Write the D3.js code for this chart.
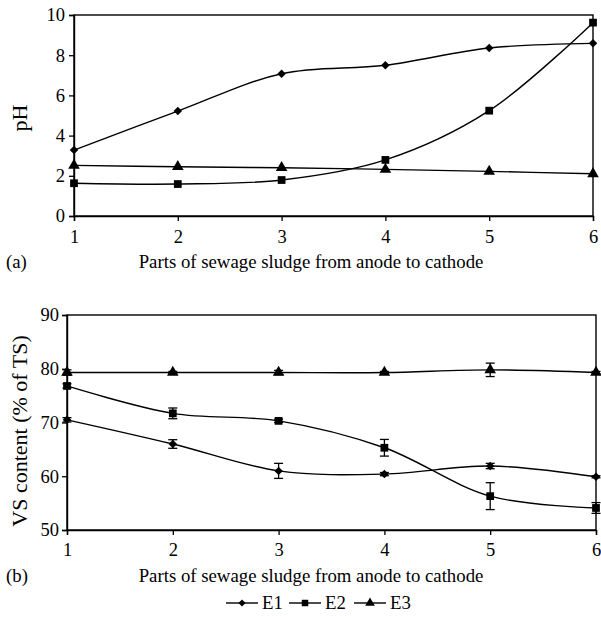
<!DOCTYPE html>
<html><head><meta charset="utf-8">
<script src="https://cdn.jsdelivr.net/npm/d3@7"></script>
<style>
body{margin:0;background:#fff;}
text{font-family:"Liberation Serif","Times New Roman",serif;fill:#000;}
</style></head>
<body><svg id="c" width="601" height="617"></svg>
<script>
const parts = [1,2,3,4,5,6];
const seriesNames = ["E1","E2","E3"];
// (a) pH
const phE1 = [3.28,5.22,7.08,7.5,8.36,8.59];
const phE2 = [1.63,1.59,1.79,2.79,5.24,9.62];
const phE3 = [2.52,2.45,2.4,2.32,2.22,2.1];
const phTicks = [0,2,4,6,8,10];
// (b) VS content
const vsE1 = [70.5,66.0,61.0,60.4,61.9,59.9];
const vsE2 = [76.8,71.7,70.3,65.3,56.3,54.1];
const vsE3 = [79.3,79.3,79.3,79.3,79.8,79.3];
const vsErrE1 = [0.4,0.8,1.4,0.3,0.5,0.2];
const vsErrE2 = [0.4,1.0,0.3,1.55,2.5,1.0];
const vsErrE3 = [0.5,0.2,0.4,0.2,1.25,0.2];
const vsTicks = [50,60,70,80,90];

const svg = d3.select("#c");
const symbols = [d3.symbolDiamond2, d3.symbolSquare, d3.symbolTriangle];
const symSizes = [46, 60, 58];

function panel(cfg){
  const x = d3.scaleLinear().domain([1,6]).range(cfg.xr);
  const y = d3.scaleLinear().domain(cfg.yd).range(cfg.yr);
  const g = svg.append("g");
  g.append("rect").attr("x",cfg.xr[0]).attr("y",cfg.yr[1])
    .attr("width",cfg.xr[1]-cfg.xr[0]).attr("height",cfg.yr[0]-cfg.yr[1])
    .attr("fill","none").attr("stroke","#000").attr("stroke-width",1.4);
  const xa = g.append("g").attr("transform",`translate(0,${cfg.yr[0]})`)
    .call(d3.axisBottom(x).tickValues(parts).tickSize(5).tickPadding(cfg.xpad).tickFormat(d3.format("d")));
  const ya = g.append("g").attr("transform",`translate(${cfg.xr[0]},0)`)
    .call(d3.axisLeft(y).tickValues(cfg.ticks).tickSize(5).tickPadding(cfg.ypad).tickFormat(d3.format("d")));
  [xa,ya].forEach(a=>{
    a.select(".domain").attr("stroke","#000").attr("stroke-width",1.4);
    a.selectAll(".tick line").attr("stroke","#000").attr("stroke-width",1.3);
    a.selectAll("text").style("font-size","18.5px").style("font-family","Liberation Serif");
  });
  const line = d3.line().x((d,i)=>x(parts[i])).y(d=>y(d)).curve(d3.curveCatmullRom.alpha(0.5));
  cfg.series.forEach((s,k)=>{
    g.append("path").attr("d",line(s)).attr("fill","none").attr("stroke","#000").attr("stroke-width",1.4);
    if(cfg.errs){
      const e = cfg.errs[k];
      s.forEach((v,i)=>{
        const cx = x(parts[i]), y0 = y(v-e[i]), y1 = y(v+e[i]);
        g.append("line").attr("x1",cx).attr("x2",cx).attr("y1",y0).attr("y2",y1).attr("stroke","#000").attr("stroke-width",1.3);
        [y0,y1].forEach(yy=>g.append("line").attr("x1",cx-4.5).attr("x2",cx+4.5).attr("y1",yy).attr("y2",yy).attr("stroke","#000").attr("stroke-width",1.3));
      });
    }
    s.forEach((v,i)=>{
      g.append("path").attr("d",d3.symbol(symbols[k],symSizes[k])())
        .attr("transform",`translate(${x(parts[i])},${y(v)})`).attr("fill","#000");
    });
  });
  g.append("text").attr("transform",`translate(${cfg.ylabX},${cfg.ylabY}) rotate(-90)`)
    .attr("text-anchor","middle").style("font-size","22px").text(cfg.ylab);
  g.append("text").attr("x",cfg.xlabX).attr("y",cfg.xlabY).attr("text-anchor","middle")
    .style("font-size","18.8px").text("Parts of sewage sludge from anode to cathode");
  g.append("text").attr("x",6).attr("y",cfg.xlabY).style("font-size","18.8px").text(cfg.tag);
}

panel({xr:[74,593], yd:[0,10], yr:[216,15], ticks:phTicks, xpad:9, ypad:4,
  series:[phE1,phE2,phE3], ylab:"pH", ylabX:27, ylabY:118,
  xlabX:311, xlabY:268, tag:"(a)"});
panel({xr:[67,596], yd:[50,90], yr:[530,315], ticks:vsTicks, xpad:8, ypad:3,
  series:[vsE1,vsE2,vsE3], errs:[vsErrE1,vsErrE2,vsErrE3],
  ylab:"VS content (% of TS)", ylabX:27, ylabY:431,
  xlabX:311, xlabY:582, tag:"(b)"});

// legend
const leg = svg.append("g");
const legX = [226,289,354];
seriesNames.forEach((n,k)=>{
  const lx = legX[k], ly = 603;
  leg.append("line").attr("x1",lx).attr("x2",lx+32).attr("y1",ly).attr("y2",ly).attr("stroke","#000").attr("stroke-width",1.4);
  leg.append("path").attr("d",d3.symbol(symbols[k],symSizes[k]*0.7)()).attr("transform",`translate(${lx+16},${ly})`).attr("fill","#000");
  leg.append("text").attr("x",lx+36).attr("y",ly+6).style("font-size","18.8px").text(n);
});
</script></body></html>
